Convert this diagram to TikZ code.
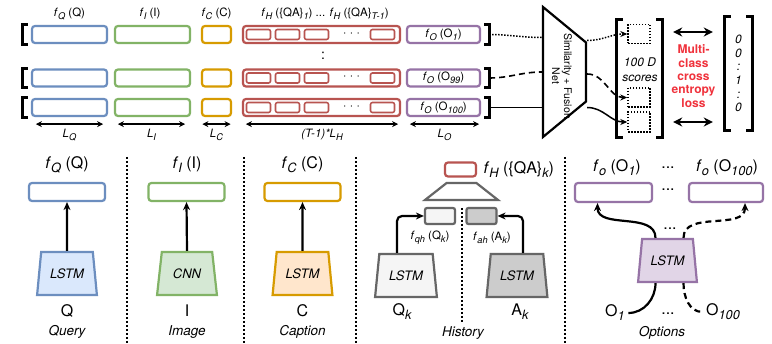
\documentclass[tikz,border=0pt]{standalone}
\usepackage{fontspec}
\setmainfont{TeX Gyre Heros}
\usepackage{graphicx}
\usetikzlibrary{shapes.geometric,arrows.meta,calc,positioning}
\definecolor{qblue}{HTML}{6C8EBF}
\definecolor{qbluef}{HTML}{DAE8FC}
\definecolor{igreen}{HTML}{82B366}
\definecolor{igreenf}{HTML}{D5E8D4}
\definecolor{corange}{HTML}{D79B00}
\definecolor{corangef}{HTML}{FFE6CC}
\definecolor{hred}{HTML}{B85450}
\definecolor{opurple}{HTML}{9673A6}
\definecolor{opurplef}{HTML}{E1D5E7}
\definecolor{hgray}{HTML}{666666}
\definecolor{hgrayl}{HTML}{F5F5F5}
\definecolor{hgrayd}{HTML}{CCCCCC}
\definecolor{lossred}{RGB}{240,50,60}
\newcommand{\sbs}[1]{\raisebox{-0.25em}{\scalebox{0.8}{\itshape #1}}}
\newcommand{\fof}[3]{\textit{f}\sbs{#1} (#2\sbs{#3})}

\begin{document}
\begin{tikzpicture}[x=1pt,y=-1pt,
  emb/.style={draw=#1, line width=2.2pt, rounded corners=3pt, fill=white, inner sep=0pt, minimum height=17pt},
  inbox/.style={draw=hred, line width=1.6pt, rounded corners=2pt, inner sep=0pt, minimum width=24pt, minimum height=10pt},
  rowbox/.style={inner sep=0pt, minimum width=466pt, minimum height=19pt},
  brk/.style={line width=2.8pt},
  lab/.style={font=\fontsize{11.5}{13}\selectfont},
  biglab/.style={font=\fontsize{16}{18}\selectfont},
  panelname/.style={font=\fontsize{13.5}{16}\selectfont\itshape},
  enc/.style 2 args={trapezium, trapezium angle=75, trapezium stretches=true, draw=#1, fill=#2, line width=2.2pt,
    minimum width=60pt, minimum height=43pt, inner sep=0pt, font=\fontsize{13}{15}\selectfont\itshape},
  gbox/.style={draw=hgray, fill=#1, line width=2.2pt, rounded corners=2pt, minimum width=30pt, minimum height=16pt, inner sep=0pt},
  dimarr/.style={{Stealth[length=6pt,width=6pt]}-{Stealth[length=6pt,width=6pt]}, line width=1.5pt},
  dbl/.style={{Stealth[length=9pt,width=9pt]}-{Stealth[length=9pt,width=9pt]}, line width=2pt},
  arr/.style={-{Stealth[length=8pt,width=7pt]}, line width=2.2pt},
  tipd/.style={-{Stealth[length=7pt,width=6pt]}},
  dotline/.style={line width=1.5pt, dash pattern=on 1.5pt off 1.5pt},
  dashline/.style={line width=1.6pt, dash pattern=on 6pt off 4pt},
  divider/.style={line width=2.2pt, dash pattern=on 2pt off 2pt},
  score/.style={draw, line width=1.4pt, dash pattern=on 1.5pt off 1.5pt, inner sep=0pt, minimum width=22pt, minimum height=19pt},
]
\path[use as bounding box, fill=white] (0,0) rectangle (772,344);

% stacked embeddings, one row per option
\foreach \r/\y/\olab in {1/34.5/\fof{O}{O}{1}, 2/78/\fof{O}{O}{99}, 3/107.5/\fof{O}{O}{100}} {
  \node[rowbox] (row\r) at (256,\y) {};
  \draw[brk] ([xshift=5pt]row\r.north west) -- (row\r.north west) -- (row\r.south west) -- ([xshift=5pt]row\r.south west);
  \draw[brk] ([xshift=-5pt]row\r.north east) -- (row\r.north east) -- (row\r.south east) -- ([xshift=-5pt]row\r.south east);
  \node[emb=qblue, minimum width=75pt] (q\r) at (69.5,\y) {};
  \node[emb=igreen, minimum width=75pt] (i\r) at (152.5,\y) {};
  \node[emb=corange, minimum width=29pt] (c\r) at (216.5,\y) {};
  \node[emb=hred, minimum width=157pt] (h\r) at (321.5,\y) {};
  \foreach \dx [count=\k] in {-63,-34,-5,61}
    \node[inbox] (h\r-\k) at ($(h\r)+(\dx,0)$) {};
  \node[font=\fontsize{12}{12}\selectfont] (hd\r) at ($(h\r)+(30,0)$) {· · ·};
  \node[emb=opurple, minimum width=73pt, lab] (o\r) at (443.5,\y) {\olab};
}
\node[lab] (tq) at (69.5,14) {\fof{Q}{Q}{}};
\node[lab] (ti) at (150,14) {\fof{I}{I}{}};
\node[lab] (tc) at (216.5,14) {\fof{C}{C}{}};
\node[lab] (th) at (325,14) {\fof{H}{\{QA\}}{1} ... \fof{H}{\{QA\}}{T-1}};
\node[font=\fontsize{14}{14}\selectfont] (vd) at (323,56) {:};

\draw[dimarr] ([shift={(5,7)}]q3.south west) -- ([shift={(-5,7)}]q3.south east) node[midway, below=1pt, lab] (dq) {\textit{L}\sbs{Q}};
\draw[dimarr] ([shift={(4,7)}]i3.south west) -- ([shift={(-6,7)}]i3.south east) node[midway, below=1pt, lab] (di) {\textit{L}\sbs{I}};
\draw[dimarr] ([shift={(1.5,7)}]c3.south west) -- ([shift={(-1.5,7)}]c3.south east) node[midway, below=1pt, lab] (dc) {\textit{L}\sbs{C}};
\draw[dimarr] ([shift={(4,7)}]h3.south west) -- ([shift={(-3,7)}]h3.south east) node[midway, below=1pt, lab] (dh) {\textit{(T-1)*L}\sbs{H}};
\draw[dimarr] ([shift={(4,7)}]o3.south west) -- ([shift={(-2,7)}]o3.south east) node[midway, below=1pt, lab] (do) {\textit{L}\sbs{O}};

% fusion net and scores
\node[trapezium, trapezium angle=59, trapezium stretches=true, draw, line width=2.2pt,
      minimum width=130pt, minimum height=43pt, inner sep=1pt, rotate=-90] (sim) at (564.5,72) {};
\node[rotate=-90, align=center, font=\fontsize{10.5}{12}\selectfont] (simtxt) at (562,76) {Similarity + Fusion\\Net};
\node[inner sep=0pt, minimum width=45pt, minimum height=117pt] (scores) at (639.5,78.5) {};
\draw[brk] ([xshift=6pt]scores.north west) -- (scores.north west) -- (scores.south west) -- ([xshift=6pt]scores.south west);
\draw[brk] ([xshift=-6pt]scores.north east) -- (scores.north east) -- (scores.south east) -- ([xshift=-6pt]scores.south east);
\node[score] (s1) at (639,34) {};
\node[score] (s2) at (639,97.5) {};
\node[score, minimum height=20pt] (s3) at (639,122) {};
\node[font=\fontsize{12}{15}\selectfont\itshape, align=center] (sc) at (640,69.5) {100 D\\scores};

\draw[dotline] (row1.east) to[out=0,in=180] ($(sim.south |- row1.east)+(0,3)$);
\draw[dotline, tipd] ($(sim.north |- row1.east)+(0,6)$) to[out=0,in=180] (s1.west);
\draw[dashline] (row2.east) to[out=0,in=180] ($(sim.south |- row2.east)+(0,-6)$);
\draw[dashline, tipd] ($(sim.north |- row2.east)+(0,-4)$) to[out=0,in=180] (s2.west);
\draw[line width=1.5pt] (row3.east) -- (sim.south |- row3.east);
\draw[line width=1.5pt, tipd] (sim.north |- row3.east) to[out=0,in=180] (s3.west);

\node[inner sep=0pt, minimum width=27pt, minimum height=113pt] (target) at (738.5,73.5) {};
\draw[brk] ([xshift=6pt]target.north west) -- (target.north west) -- (target.south west) -- ([xshift=6pt]target.south west);
\draw[brk] ([xshift=-6pt]target.north east) -- (target.north east) -- (target.south east) -- ([xshift=-6pt]target.south east);
\node[font=\fontsize{12}{13.6}\selectfont\itshape, align=center] (vec) at (target.center) {0\\0\\:\\1\\:\\0};
\node[font=\fontsize{12}{13.3}\selectfont\bfseries, text=lossred, align=center] (loss) at ($(scores.east)!0.5!(target.west)$) {Multi-\\class\\cross\\entropy\\loss};
\draw[dbl] ($(scores.east |- s1)+(11,-2)$) -- ($(target.west |- s1)+(-12,-2)$);
\draw[dbl] ($(scores.east |- s3)+(11,0)$) -- ($(target.west |- s3)+(-12,0)$);

% encoders
\draw[divider] (127,157) -- (127,344);
\draw[divider] (244,157) -- (244,344);
\draw[divider] (356,157) -- (356,344);
\draw[divider] (565,157) -- (565,344);

\node[biglab] (fq) at (67,165) {\fof{Q}{Q}{}};
\node[emb=qblue, minimum width=76pt, minimum height=18pt] (bq) at (67,192) {};
\node[enc={qblue}{qbluef}] (lq) at (67,273.5) {LSTM};
\node[biglab] (xq) at (67,311) {Q};
\node[panelname] (nq) at (67,332) {Query};
\draw[arr] (lq.north) -- (bq.south);

\node[biglab] (fi) at (187,165) {\fof{I}{I}{}};
\node[emb=igreen, minimum width=76pt, minimum height=18pt] (bi) at (186.5,192) {};
\node[enc={igreen}{igreenf}] (li) at (187,273.5) {CNN};
\node[biglab] (xi) at (187,311) {I};
\node[panelname] (ni) at (187,332) {Image};
\draw[arr] (li.north) -- (bi.south);

\node[biglab] (fc) at (302.5,165) {\fof{C}{C}{}};
\node[emb=corange, minimum width=76pt, minimum height=18pt] (bc) at (302.5,192) {};
\node[enc={corange}{corangef}] (lc) at (302.5,273.5) {LSTM};
\node[biglab] (xc) at (302.5,311) {C};
\node[panelname] (nc) at (302.5,332) {Caption};
\draw[arr] (lc.north) -- (bc.south);

\node[emb=hred, minimum width=31pt, minimum height=14pt] (hk) at (460.5,169.5) {};
\node[biglab, anchor=west] (fh) at ([xshift=3pt]hk.east) {\fof{H}{\{QA\}}{k}};
\node[trapezium, trapezium angle=54, trapezium stretches=true, draw=hgray, line width=2.2pt,
      minimum width=73pt, minimum height=17pt, inner sep=1pt] (hm) at (461.5,191.5) {};
\node[gbox=hgrayl] (qh) at (440,216) {};
\node[gbox=hgrayd] (ah) at (481.5,216) {};
\draw[divider] (462,208) -- (462,322);
\node[enc={hgray}{hgrayl}, minimum width=62pt] (lqk) at (406,275.5) {LSTM};
\node[enc={hgray}{hgrayd}, minimum width=61pt] (lak) at (517,275.5) {LSTM};
\node[lab] (fqh) at (430,238) {\fof{qh}{Q}{k}};
\node[lab] (fah) at (492,238) {\fof{ah}{A}{k}};
\draw[arr, rounded corners=5pt] ([xshift=-9pt]lqk.north) |- (qh.west);
\draw[arr, rounded corners=5pt] ([xshift=6pt]lak.north) |- (ah.east);
\node[biglab] (xqk) at (402,312) {Q\sbs{k}};
\node[biglab] (xak) at (520,312) {A\sbs{k}};
\node[panelname] (nh) at (463,333) {History};

\node[biglab] (fo1) at (617,168) {\fof{o}{O}{1}};
\node[biglab] (fod) at (668,168) {...};
\node[biglab] (fo100) at (727,168) {\fof{o}{O}{100}};
\node[emb=opurple, minimum width=77pt, minimum height=19pt] (ob1) at (613.5,192.5) {};
\node[biglab] (obd) at (668,190) {...};
\node[emb=opurple, minimum width=74pt, minimum height=19pt] (ob100) at (726,192.5) {};
\node[enc={opurple}{opurplef}, minimum width=59pt] (lo) at (667.5,260.5) {LSTM};
\node[biglab] (lod) at (670,229) {...};
\node[biglab] (xo1) at (615,313) {O\sbs{1}};
\node[biglab] (xod) at (668,314) {...};
\node[biglab] (xo100) at (723,312) {O\sbs{100}};
\node[panelname] (no) at (662,333) {Options};
\draw[arr] ([xshift=-12pt]lo.north) to[out=90,in=-90] ([xshift=-16pt]ob1.south);
\draw[arr, dash pattern=on 6pt off 4pt] ([xshift=16pt]lo.north) to[out=90,in=-90] ([xshift=19pt]ob100.south);
\draw[line width=2.2pt] ([xshift=-12pt]lo.south) to[out=-90,in=0] (xo1.east);
\draw[line width=2.2pt, dash pattern=on 6pt off 4pt] ([xshift=16pt]lo.south) to[out=-90,in=180] (xo100.west);
\end{tikzpicture}
\end{document}
